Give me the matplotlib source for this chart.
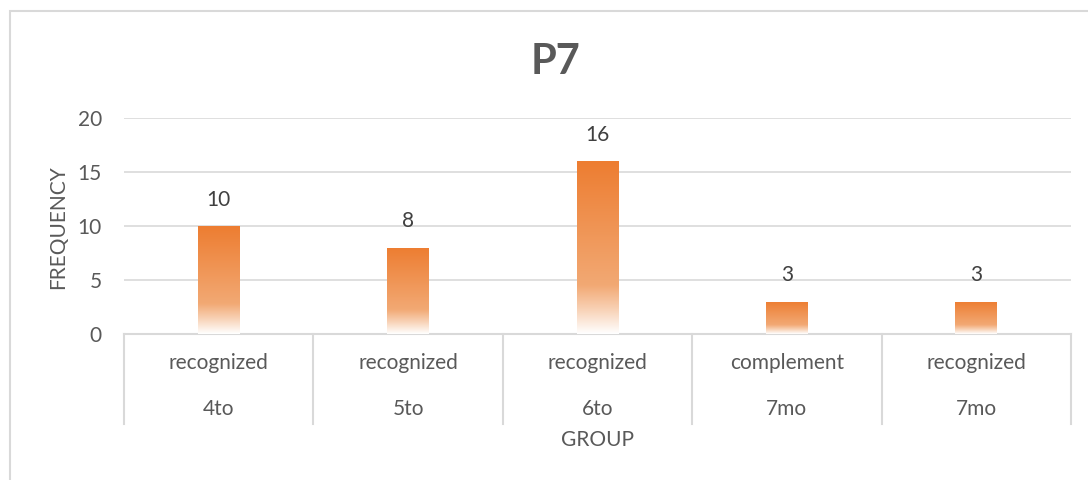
import matplotlib.pyplot as plt
import numpy as np
from matplotlib.colors import LinearSegmentedColormap
from matplotlib.patches import Rectangle
from matplotlib.lines import Line2D

plt.rcParams['font.family'] = ['Lato', 'DejaVu Sans']

title = "P7"
groups = ["4to", "5to", "6to", "7mo", "7mo"]
kinds = ["recognized", "recognized", "recognized", "complement", "recognized"]
freq = [10, 8, 16, 3, 3]
y_ticks = [0, 5, 10, 15, 20]

txt = "#595959"
grid = "#D9D9D9"

fig = plt.figure(figsize=(10.88, 4.8), dpi=100)
ax = fig.add_axes([124 / 1088, 1 - 334 / 480, (1071 - 124) / 1088, (334 - 118) / 480])

# chart border (only top/left visible in the crop)
fig.add_artist(Rectangle((10 / 1088, -0.1), 1.2, 1 - 11 / 480 + 0.1, transform=fig.transFigure,
                         fill=False, edgecolor=grid, lw=1.5))

x = np.arange(len(freq))
bars = ax.bar(x, freq, width=0.22, color="none", zorder=3)

cmap = LinearSegmentedColormap.from_list(
    "fade", [(0, "#ED7D31"), (0.72, "#F2A974"), (0.86, "#F8D2B6"), (1, "#FFFFFF")])
grad = np.linspace(0, 1, 256).reshape(-1, 1)
for b in bars:
    x0, w, h = b.get_x(), b.get_width(), b.get_height()
    im = ax.imshow(grad, cmap=cmap, aspect="auto", extent=(x0, x0 + w, 0, h),
                   origin="upper", zorder=3)
    im.set_clip_path(b)
    ax.text(x0 + w / 2, h + 1.5, str(int(h)), ha="center", va="bottom",
            fontsize=15, color="#404040")

ax.set_xlim(-0.5, len(freq) - 0.5)
ax.set_ylim(0, 20)
ax.set_yticks(y_ticks)
ax.set_yticklabels([str(t) for t in y_ticks], fontsize=15, color=txt)
ax.tick_params(axis="y", length=0, pad=16)
ax.set_xticks([])
ax.yaxis.grid(True, color=grid, lw=1.2, zorder=0)
for s in ["top", "right", "left"]:
    ax.spines[s].set_visible(False)
ax.spines["bottom"].set_color(grid)
ax.spines["bottom"].set_linewidth(1.5)

# hierarchical category axis
trans = ax.get_xaxis_transform()
to_ax = lambda py: (1 - py / 480 - (1 - 334 / 480)) / ((334 - 118) / 480)
for i in range(len(freq) + 1):
    ax.add_line(Line2D([i - 0.5, i - 0.5], [0, to_ax(424)], transform=trans,
                       color=grid, lw=1.5, clip_on=False))
for i in range(len(freq)):
    ax.text(i, to_ax(363), kinds[i], transform=trans, ha="center", va="center",
            fontsize=15, color=txt)
    ax.text(i, to_ax(409), groups[i], transform=trans, ha="center", va="center",
            fontsize=15, color=txt)

fig.text(598 / 1088, 1 - 440 / 480, "GROUP", ha="center", va="center", fontsize=15, color=txt)
fig.text(58 / 1088, 1 - 227 / 480, "FREQUENCY", ha="center", va="center", rotation=90,
         fontsize=15, color=txt)
fig.text(555 / 1088, 1 - 62 / 480, title, ha="center", va="center", fontsize=30,
         fontweight="bold", color=txt)

fig.savefig("out.png", dpi=100)
